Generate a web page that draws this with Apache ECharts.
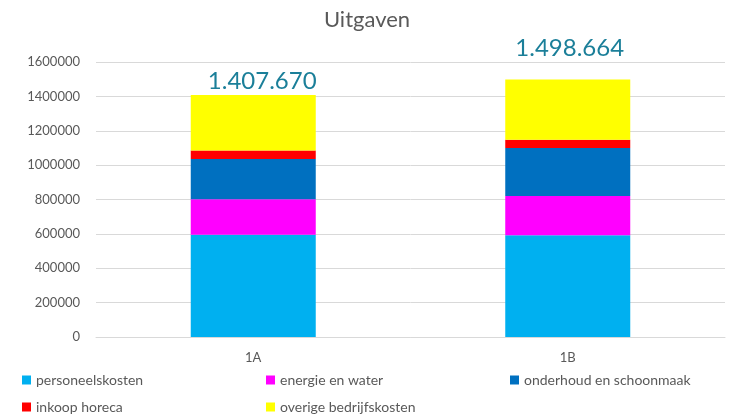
<!DOCTYPE html>
<html>
<head>
<meta charset="utf-8">
<script src="https://cdn.jsdelivr.net/npm/echarts@6/dist/echarts.min.js"></script>
<style>
  html, body { margin: 0; padding: 0; background: #fff; }
  #chart { width: 734px; height: 417px; }
</style>
</head>
<body>
<div id="chart"></div>
<script>
const categories = ['1A', '1B'];
const personeelskosten = [595000, 592000];
const energieEnWater = [207000, 228000];
const onderhoud = [233000, 280000];
const inkoopHoreca = [50000, 47000];
const overigeKosten = [322670, 351664];
const yTicks = [0, 200000, 400000, 600000, 800000, 1000000, 1200000, 1400000, 1600000];

const totals = categories.map((c, i) =>
  personeelskosten[i] + energieEnWater[i] + onderhoud[i] + inkoopHoreca[i] + overigeKosten[i]
);

const dotted = (n) => String(n).replace(/\B(?=(\d{3})+(?!\d))/g, '.');

const chart = echarts.init(document.getElementById('chart'));

const font = 'Lato, "Open Sans", sans-serif';
const legendText = { color: '#595959', fontSize: 14, fontFamily: font };

const makeSeries = (name, data, color) => ({
  name: name,
  type: 'bar',
  stack: 'total',
  data: data,
  barWidth: 125,
  itemStyle: { color: color },
  emphasis: { disabled: true }
});

// total labels sit where they were placed by hand in the original
const labelOffsets = [[9, 0], [2, -17]];

const series = [
  makeSeries('personeelskosten', personeelskosten, '#00b0f0'),
  makeSeries('energie en water', energieEnWater, '#ff00ff'),
  makeSeries('onderhoud en schoonmaak', onderhoud, '#0070c0'),
  makeSeries('inkoop horeca', inkoopHoreca, '#ff0000'),
  makeSeries('overige bedrijfskosten', overigeKosten, '#ffff00')
];
series[4].data = overigeKosten.map((v, i) => ({ value: v, label: { offset: labelOffsets[i] } }));
series[4].label = {
  show: true,
  position: 'top',
  distance: 2,
  color: '#1b7f99',
  fontSize: 24,
  fontFamily: font,
  formatter: (p) => dotted(totals[p.dataIndex])
};

const legendItem = (name, left, top) => ({
  left: left, top: top, itemWidth: 9, itemHeight: 9, itemGap: 4,
  icon: 'rect', textStyle: legendText, selectedMode: false, padding: 0,
  data: [name]
});

const option = {
  animation: false,
  title: {
    text: 'Uitgaven',
    left: 'center',
    top: 4,
    textStyle: { color: '#595959', fontSize: 22, fontWeight: 'normal', fontFamily: font }
  },
  grid: { left: 96, right: 9, top: 62, bottom: 80 },
  legend: [
    legendItem('personeelskosten', 22, 373),
    legendItem('energie en water', 266, 373),
    legendItem('onderhoud en schoonmaak', 510, 373),
    legendItem('inkoop horeca', 22, 400),
    legendItem('overige bedrijfskosten', 266, 400)
  ],
  xAxis: {
    type: 'category',
    data: categories,
    axisTick: { show: false },
    axisLine: { lineStyle: { color: '#d9d9d9' } },
    axisLabel: { color: '#595959', fontSize: 13, fontFamily: font, margin: 14 }
  },
  yAxis: {
    type: 'value',
    min: yTicks[0],
    max: yTicks[yTicks.length - 1],
    interval: yTicks[1] - yTicks[0],
    axisLine: { show: false },
    axisTick: { show: false },
    axisLabel: {
      color: '#595959', fontSize: 13, fontFamily: font, margin: 16,
      formatter: (v) => String(v)
    },
    splitLine: { lineStyle: { color: '#d9d9d9' } }
  },
  series: series
};

chart.setOption(option);
</script>
</body>
</html>
